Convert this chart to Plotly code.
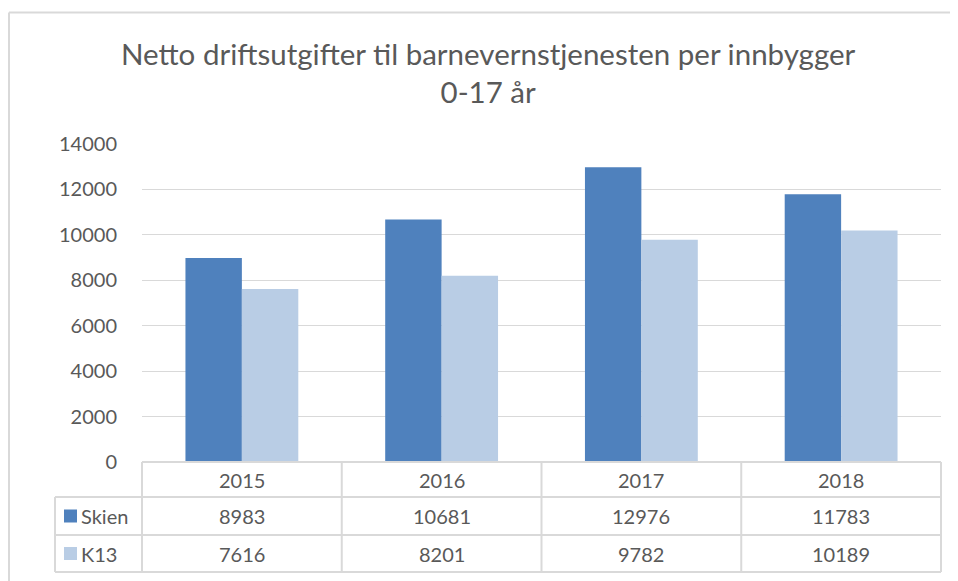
import plotly.graph_objects as go

years = ["2015", "2016", "2017", "2018"]
skien = [8983, 10681, 12976, 11783]
k13 = [7616, 8201, 9782, 10189]
series_names = ["Skien", "K13"]
colors = ["#4f81bd", "#b9cde5"]

# the page puts the figure 8px in from the top-left corner
OFF = 8
W, H = 958 - OFF, 581 - OFF
FONT = "Lato"
TXT = "#595959"
GRID = "#d9d9d9"

def px(x):
    return (x - OFF) / W

def py(y):
    return 1 - (y - OFF) / H

x0, x1 = 142, 941
ytop, ybot = 144, 462
row_edges = [462, 497, 535, 572]
tbl_left = 55

fig = go.Figure()
for name, vals, c in zip(series_names, [skien, k13], colors):
    fig.add_trace(go.Bar(x=years, y=vals, name=name, marker_color=c,
                         marker_line_width=0, showlegend=False))

fig.update_layout(
    width=W, height=H,
    margin=dict(l=0, r=0, t=0, b=0, pad=0, autoexpand=False),
    paper_bgcolor="white", plot_bgcolor="white",
    barmode="group", bargap=0.435, bargroupgap=0,
    font=dict(family=FONT, color=TXT, size=20),
)
fig.update_xaxes(type="category", domain=[px(x0), px(x1)], range=[-0.5, len(years) - 0.5],
                 showticklabels=False, showgrid=False,
                 zeroline=False, showline=False, ticks="", automargin=False)
fig.update_yaxes(domain=[py(ybot), py(ytop)], range=[0, 14000], dtick=2000, tickformat="d",
                 showgrid=True, gridcolor=GRID, gridwidth=1, zeroline=False,
                 tickfont=dict(size=20, color=TXT), ticks="", ticklen=0,
                 ticklabelstandoff=24, showline=False, automargin=False)

# title
fig.add_annotation(text="Netto driftsutgifter til barnevernstjenesten per innbygger<br>0-17 år",
                   x=px(489), y=py(72), xref="paper", yref="paper", showarrow=False,
                   font=dict(size=29.5, color=TXT), align="center", yanchor="middle")

shapes = []
line = dict(color=GRID, width=2)
# outer chart border (top and left)
shapes.append(dict(type="line", xref="paper", yref="paper", x0=px(9), x1=1, y0=py(12.5), y1=py(12.5), line=line))
shapes.append(dict(type="line", xref="paper", yref="paper", x0=px(9), x1=px(9), y0=py(12.5), y1=0, line=line))
# table horizontal lines
shapes.append(dict(type="line", xref="paper", yref="paper", x0=px(x0), x1=px(x1), y0=py(row_edges[0]), y1=py(row_edges[0]), line=line))
for r in row_edges[1:]:
    shapes.append(dict(type="line", xref="paper", yref="paper", x0=px(tbl_left), x1=px(x1), y0=py(r), y1=py(r), line=line))
# table vertical lines
ncat = len(years)
for i in range(ncat + 1):
    xx = x0 + (x1 - x0) * i / ncat
    shapes.append(dict(type="line", xref="paper", yref="paper", x0=px(xx), x1=px(xx),
                       y0=py(row_edges[0]), y1=py(row_edges[-1]), line=line))
shapes.append(dict(type="line", xref="paper", yref="paper", x0=px(tbl_left), x1=px(tbl_left),
                   y0=py(row_edges[1]), y1=py(row_edges[-1]), line=line))
fig.update_layout(shapes=shapes)

# data table text (category positions by index)
ymid = lambda i: py((row_edges[i] + row_edges[i + 1]) / 2)
for i, yr in enumerate(years):
    fig.add_annotation(text=yr, x=i, xref="x", y=ymid(0), yref="paper", showarrow=False,
                       yanchor="middle", font=dict(size=20, color=TXT))
for ri, (name, vals, c) in enumerate(zip(series_names, [skien, k13], colors)):
    yy = ymid(ri + 1)
    fig.add_shape(type="rect", xref="paper", yref="paper", x0=px(64), x1=px(77),
                  y0=yy - 6.5 / H, y1=yy + 6.5 / H, fillcolor=c, line_width=0)
    fig.add_annotation(text=name, x=px(79), xref="paper", y=yy, yref="paper", showarrow=False,
                       xanchor="left", yanchor="middle", font=dict(size=20, color=TXT))
    for i, v in enumerate(vals):
        fig.add_annotation(text=str(v), x=i, xref="x", y=yy, yref="paper", showarrow=False,
                           yanchor="middle", font=dict(size=20, color=TXT))

fig.write_html("out.html")
